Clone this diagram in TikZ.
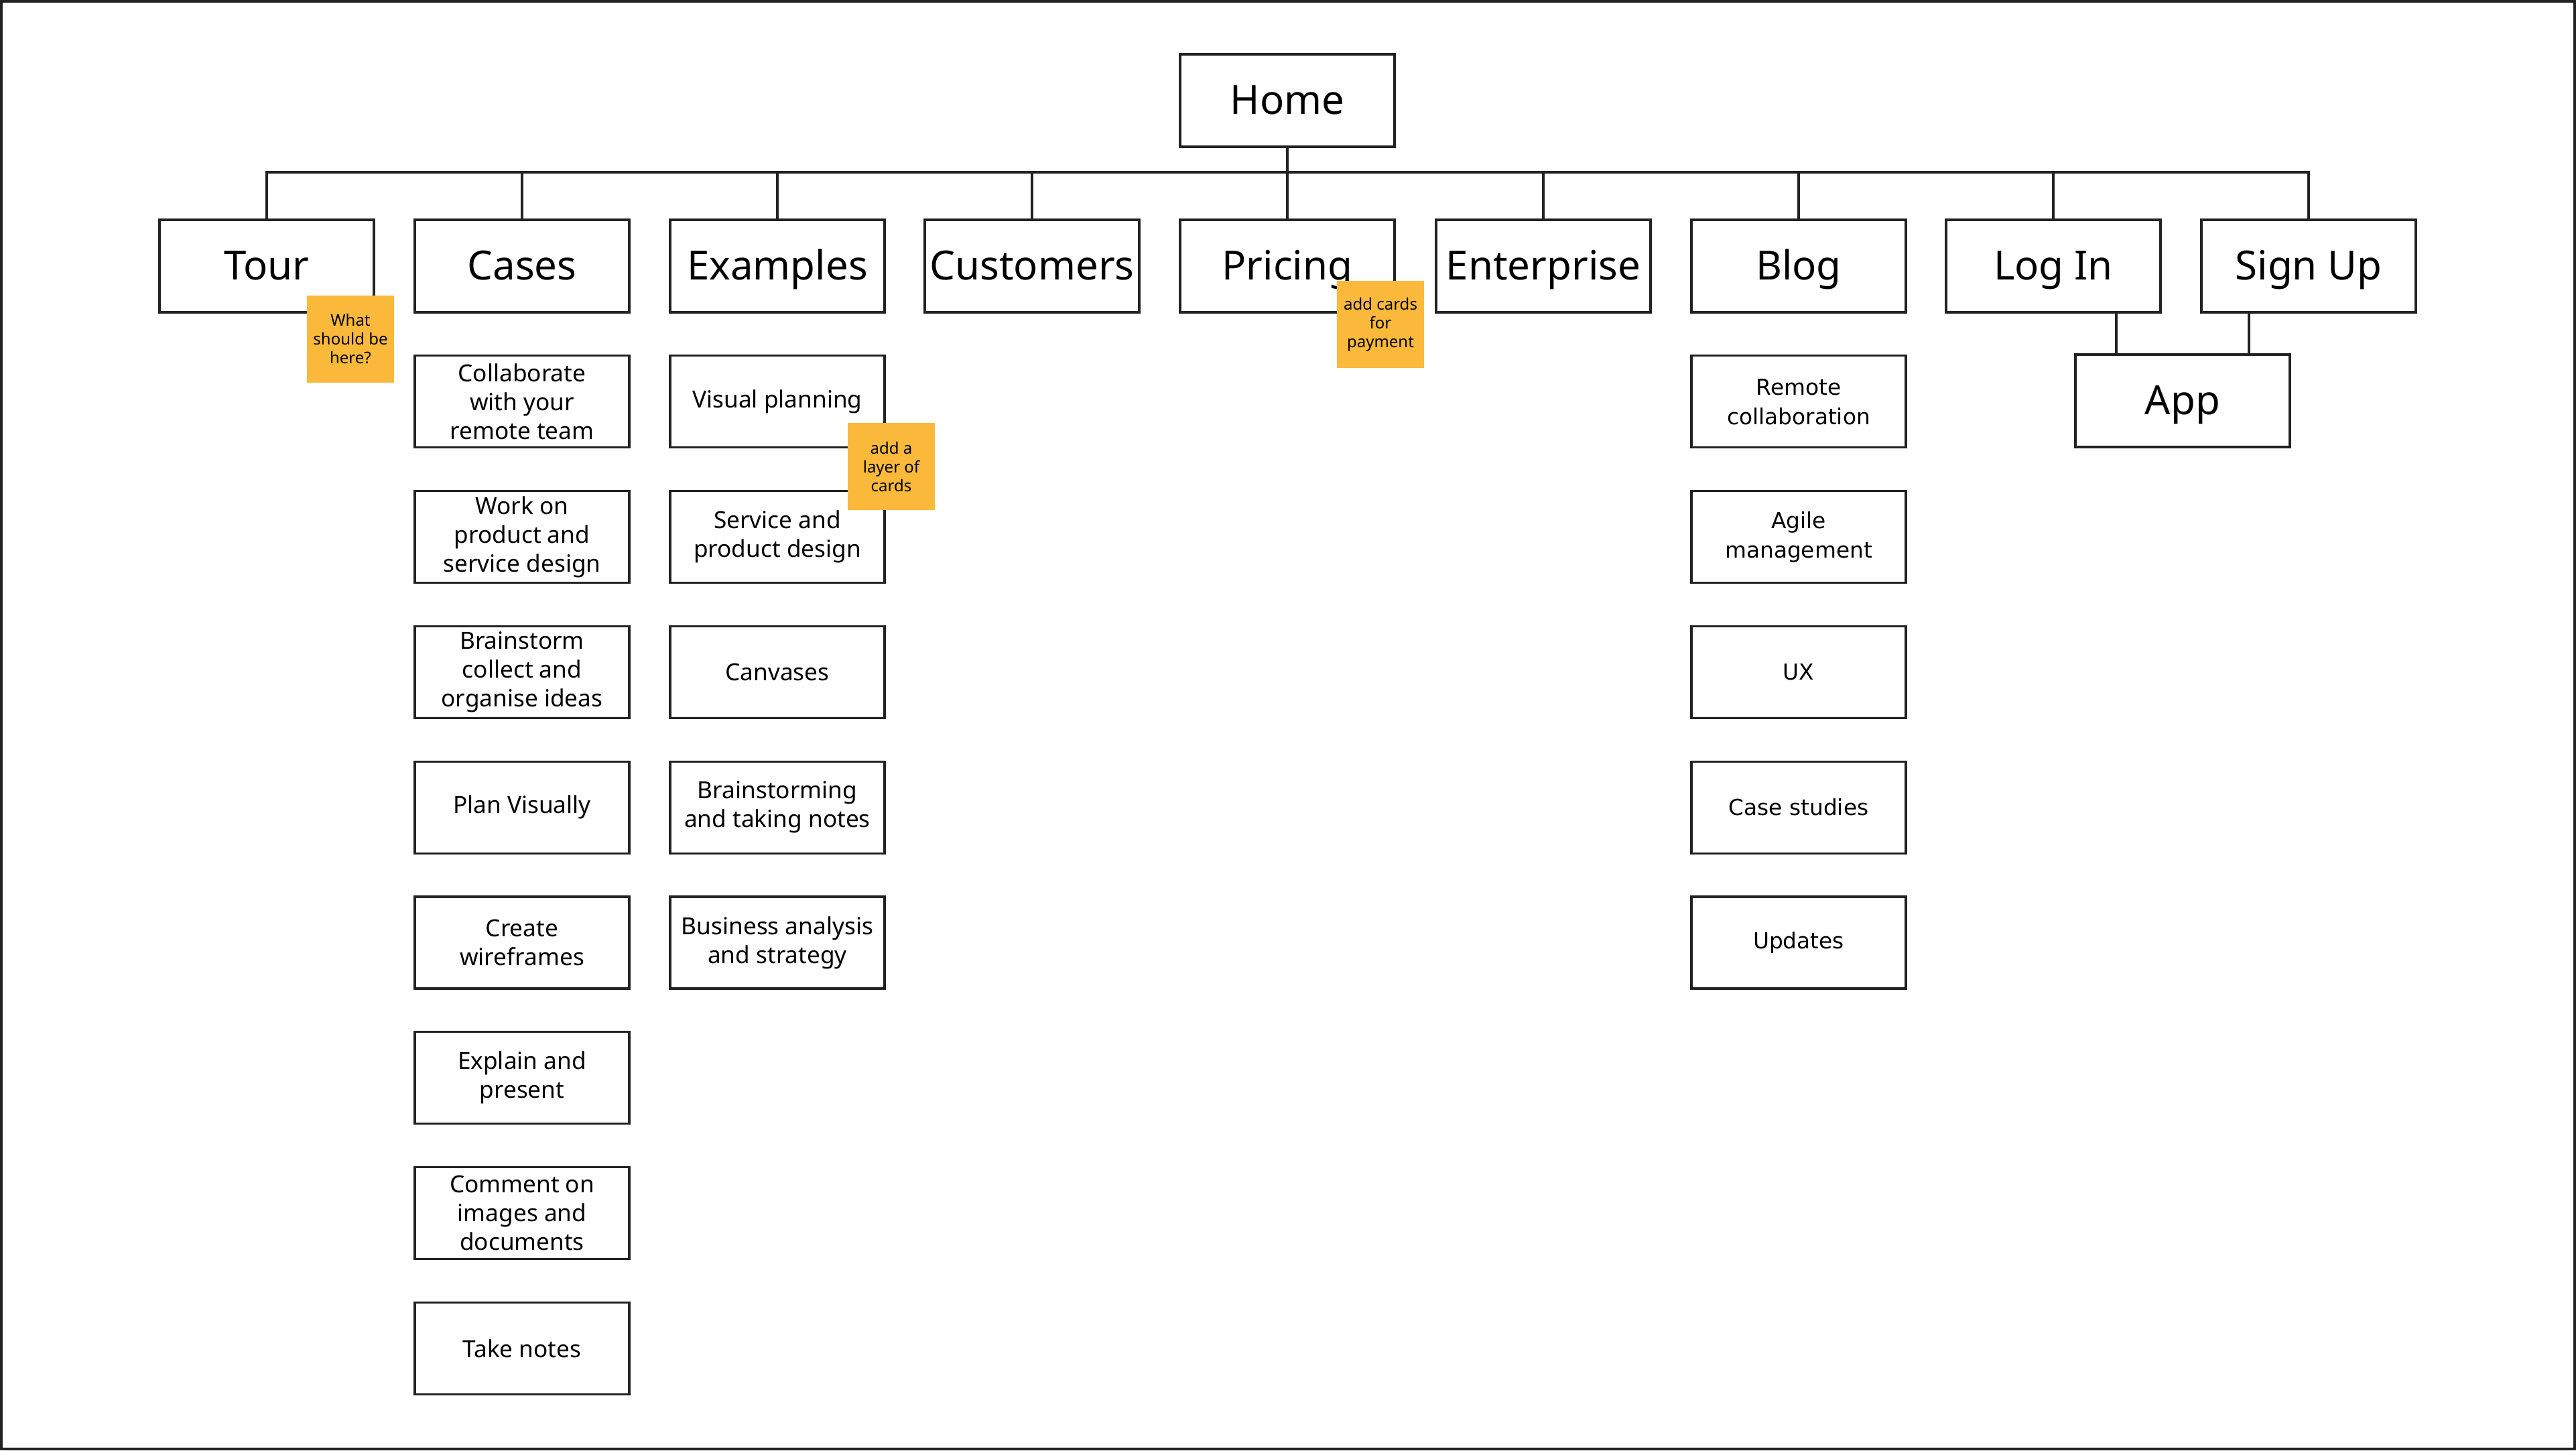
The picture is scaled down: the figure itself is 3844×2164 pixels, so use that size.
\documentclass[tikz,border=0pt]{standalone}
\usepackage{fontspec}
\setmainfont{Noto Sans}
\newfontfamily\blogfont{DejaVu Sans}
\usetikzlibrary{positioning}
\definecolor{stickynote}{RGB}{251,185,59}
\definecolor{inkline}{RGB}{34,34,34}
\tikzset{
  page/.style={draw=inkline, line width=1pt},
  topbox/.style={draw=inkline, line width=0.8pt, minimum width=80pt, minimum height=34.5pt, inner sep=1pt, text height=12.5pt, text depth=2.5pt, font=\fontsize{15}{18}\selectfont},
  subbox/.style={draw=inkline, line width=0.8pt, minimum width=80pt, minimum height=34.25pt, align=center, inner sep=1pt, font=\fontsize{8.8}{10.75}\selectfont},
  blogbox/.style={subbox, font=\blogfont\fontsize{8.2}{11}\selectfont},
  sticky/.style={fill=stickynote, minimum size=32.5pt, align=center, inner sep=0pt, font=\fontsize{6}{7}\selectfont},
  link/.style={draw=inkline, line width=0.8pt},
  bus/.style={draw=inkline, line width=1pt},
}
\begin{document}
\begin{tikzpicture}[x=0.25pt, y=-0.25pt, node distance=15.4pt]
	   \useasboundingbox (0,0) rectangle (3844,2164);
	   \draw [page] (2,2) rectangle (3842,2162);
	   % top of the site map
	   \node [topbox] (home) at (1921,150) {Home};
	   \node [topbox] (tour) at (398,397) {Tour};
	   \node [topbox] (cases) at (779,397) {Cases};
	   \node [topbox] (examples) at (1160,397) {Examples};
	   \node [topbox] (customers) at (1540,397) {Customers};
	   \node [topbox] (pricing) at (1921,397) {Pricing};
	   \node [topbox] (enterprise) at (2303,397) {Enterprise};
	   \node [topbox] (blog) at (2684,397) {Blog};
	   \node [topbox] (login) at (3064,397) {Log In};
	   \node [topbox] (signup) at (3445,397) {Sign Up};
	   \node [topbox] (app) at (3257,598) {App};
	   % the bus line under home
	   \coordinate (hub) at (1921,257);
	   \draw [link] (home) -- (hub);
	   \draw [bus] (tour.north) |- (hub) -| (signup.north);
	   \foreach \n in {cases,examples,customers,pricing,enterprise,blog,login}
	      \draw [link] (\n.north) -- (\n.north |- hub);
	   \draw [link] ([xshift=23.5pt]login.south) -- ([xshift=23.5pt]login.south |- app.north);
	   \draw [link] ([xshift=-22.25pt]signup.south) -- ([xshift=-22.25pt]signup.south |- app.north);
	   % cases
	   \node [subbox, below=of cases] (c1) {Collaborate\\with your\\remote team};
	   \node [subbox, below=of c1] (c2) {Work on\\product and\\service design};
	   \node [subbox, below=of c2] (c3) {Brainstorm\\collect and\\organise ideas};
	   \node [subbox, below=of c3] (c4) {Plan Visually};
	   \node [subbox, below=of c4] (c5) {Create\\wireframes};
	   \node [subbox, below=of c5] (c6) {Explain and\\present};
	   \node [subbox, below=of c6] (c7) {Comment on\\images and\\documents};
	   \node [subbox, below=of c7] (c8) {Take notes};
	   % examples
	   \node [subbox, below=of examples] (e1) {Visual planning};
	   \node [subbox, below=of e1] (e2) {Service and\\product design};
	   \node [subbox, below=of e2] (e3) {Canvases};
	   \node [subbox, below=of e3] (e4) {Brainstorming\\and taking notes};
	   \node [subbox, below=of e4] (e5) {Business analysis\\and strategy};
	   % blog
	   \node [blogbox, below=of blog] (b1) {Remote\\collaboration};
	   \node [blogbox, below=of b1] (b2) {Agile\\management};
	   \node [blogbox, below=of b2] (b3) {UX};
	   \node [blogbox, below=of b3] (b4) {Case studies};
	   \node [blogbox, below=of b4] (b5) {Updates};
	   % sticky notes
	   \node [sticky] (notetour) at (523,506) {What\\should be\\here?};
	   \node [sticky] (notepricing) at (2060,484) {add cards\\for\\payment};
	   \node [sticky] (noteexamples) at (1330,696) {add a\\layer of\\cards};
\end{tikzpicture}
\end{document}
